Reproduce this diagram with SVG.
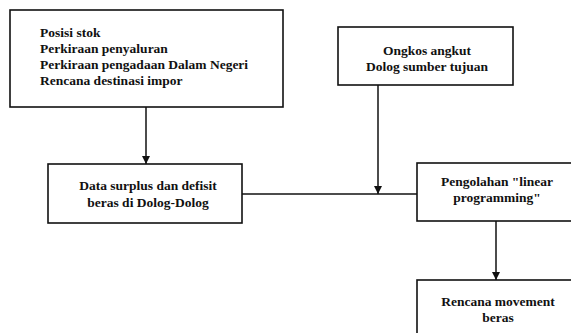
<svg xmlns="http://www.w3.org/2000/svg" width="571" height="333" viewBox="0 0 571 333">
<defs>
<marker id="ah" viewBox="0 0 8 12" refX="8" refY="6" markerWidth="8" markerHeight="12" markerUnits="userSpaceOnUse" orient="auto">
<path d="M0,2 L8,6 L0,10 z" fill="#111"/>
</marker>
</defs>
<style>
.box{fill:#fff;stroke:#111;stroke-width:1.6}
.t{font-family:'Liberation Serif','Times New Roman',serif;font-size:13.5px;font-weight:bold;fill:#111}
.c{text-anchor:middle}
.ln{fill:none;stroke:#111;stroke-width:1.5}
</style>
<rect width="571" height="333" fill="#fff"/>
<g id="connectors">
<line class="ln" x1="146" y1="107" x2="146" y2="164" marker-end="url(#ah)"/>
<line class="ln" x1="242" y1="194" x2="417" y2="194"/>
<line class="ln" x1="378" y1="85" x2="378" y2="194" marker-end="url(#ah)"/>
<line class="ln" x1="496" y1="221" x2="496" y2="280" marker-end="url(#ah)"/>
</g>
<g id="n1">
<rect class="box" x="10" y="10" width="273" height="97"/>
<text class="t" x="40" y="37">Posisi stok</text>
<text class="t" x="40" y="53">Perkiraan penyaluran</text>
<text class="t" x="40" y="69">Perkiraan pengadaan Dalam Negeri</text>
<text class="t" x="40" y="85">Rencana destinasi impor</text>
</g>
<g id="n2">
<rect class="box" x="338" y="27" width="175" height="58"/>
<text class="t c" x="427" y="55">Ongkos angkut</text>
<text class="t c" x="427" y="71">Dolog sumber tujuan</text>
</g>
<g id="n3">
<rect class="box" x="48" y="164" width="194" height="59"/>
<text class="t c" x="148" y="190">Data surplus dan defisit</text>
<text class="t c" x="148" y="207">beras di Dolog-Dolog</text>
</g>
<g id="n4">
<rect class="box" x="417" y="163" width="160" height="58"/>
<text class="t c" x="497" y="186">Pengolahan "linear</text>
<text class="t c" x="497" y="202">programming"</text>
</g>
<g id="n5">
<rect class="box" x="417" y="280" width="160" height="60"/>
<text class="t c" x="498" y="306">Rencana movement</text>
<text class="t c" x="498" y="322">beras</text>
</g>
</svg>
